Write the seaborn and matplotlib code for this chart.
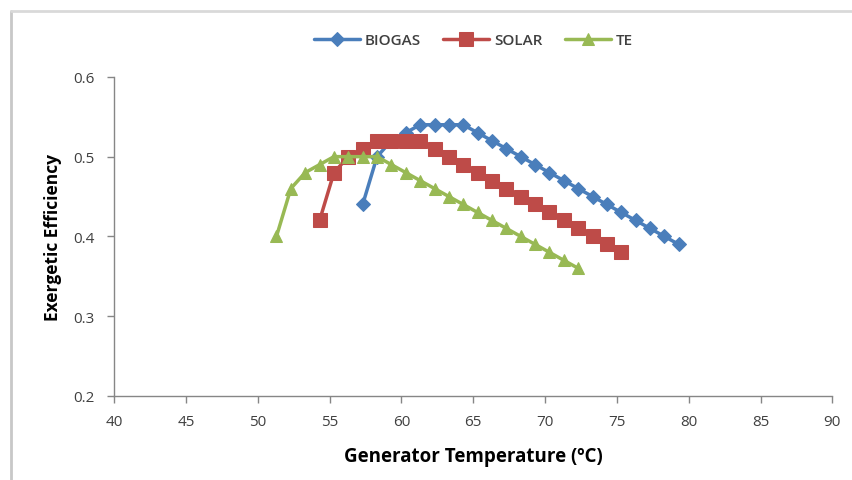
import matplotlib
matplotlib.use("Agg")
import matplotlib.pyplot as plt
import seaborn as sns
import pandas as pd

# data
biogas_t = [57.3, 58.3, 59.3, 60.3, 61.3, 62.3, 63.3, 64.3, 65.3, 66.3, 67.3, 68.3,
            69.3, 70.3, 71.3, 72.3, 73.3, 74.3, 75.3, 76.3, 77.3, 78.3, 79.3]
biogas_eff = [0.44, 0.50, 0.52, 0.53, 0.54, 0.54, 0.54, 0.54, 0.53, 0.52, 0.51, 0.50,
              0.49, 0.48, 0.47, 0.46, 0.45, 0.44, 0.43, 0.42, 0.41, 0.40, 0.39]

solar_t = [54.3, 55.3, 56.3, 57.3, 58.3, 59.3, 60.3, 61.3, 62.3, 63.3, 64.3,
           65.3, 66.3, 67.3, 68.3, 69.3, 70.3, 71.3, 72.3, 73.3, 74.3, 75.3]
solar_eff = [0.42, 0.48, 0.50, 0.51, 0.52, 0.52, 0.52, 0.52, 0.51, 0.50, 0.49,
             0.48, 0.47, 0.46, 0.45, 0.44, 0.43, 0.42, 0.41, 0.40, 0.39, 0.38]

te_t = [51.3, 52.3, 53.3, 54.3, 55.3, 56.3, 57.3, 58.3, 59.3, 60.3, 61.3,
        62.3, 63.3, 64.3, 65.3, 66.3, 67.3, 68.3, 69.3, 70.3, 71.3, 72.3]
te_eff = [0.40, 0.46, 0.48, 0.49, 0.50, 0.50, 0.50, 0.50, 0.49, 0.48, 0.47,
          0.46, 0.45, 0.44, 0.43, 0.42, 0.41, 0.40, 0.39, 0.38, 0.37, 0.36]

series = ["BIOGAS", "SOLAR", "TE"]
colors = ["#4A7EBB", "#BE4B48", "#98B954"]
markers = ["D", "s", "^"]
msizes = [7.5, 10, 9]

x_ticks = [40, 45, 50, 55, 60, 65, 70, 75, 80, 85, 90]
y_ticks = [0.2, 0.3, 0.4, 0.5, 0.6]

df = pd.concat([
    pd.DataFrame({"T": biogas_t, "eff": biogas_eff, "src": "BIOGAS"}),
    pd.DataFrame({"T": solar_t, "eff": solar_eff, "src": "SOLAR"}),
    pd.DataFrame({"T": te_t, "eff": te_eff, "src": "TE"}),
])

sns.set_style("white")
plt.rcParams["font.family"] = ["Open Sans", "DejaVu Sans"]

fig = plt.figure(figsize=(8.52, 4.81), dpi=100)
ax = fig.add_axes([0.134, 0.175, 0.843, 0.663])

for name, c, m, ms in zip(series, colors, markers, msizes):
    sub = df[df["src"] == name]
    sns.lineplot(data=sub, x="T", y="eff", ax=ax, color=c, marker=m,
                 markersize=ms, markeredgecolor=c, linewidth=2.5,
                 label=name, sort=False)

ax.set_xlim(40, 90)
ax.set_ylim(0.2, 0.6)
ax.set_xticks(x_ticks)
ax.set_yticks(y_ticks)
ax.set_yticklabels([f"{v:.1f}" for v in y_ticks])
ax.tick_params(axis="both", direction="out", length=5, width=1, color="#868686",
               labelsize=11, labelcolor="#404040", bottom=True, left=True)
ax.tick_params(axis="x", pad=8)
ax.tick_params(axis="y", pad=9)

for s in ["top", "right"]:
    ax.spines[s].set_visible(False)
for s in ["left", "bottom"]:
    ax.spines[s].set_color("#868686")
    ax.spines[s].set_linewidth(1)

ax.set_xlabel("Generator Temperature (\u00baC)", fontsize=13.5, fontweight="bold",
              color="black", labelpad=12)
ax.set_ylabel("Exergetic Efficiency", fontsize=12.5, fontweight="bold",
              color="black", labelpad=8)

leg = ax.legend(loc="center", bbox_to_anchor=(0.5, 1.115), ncol=3,
                frameon=False, fontsize=11, handlelength=3, columnspacing=1.5,
                handletextpad=0.3)
for t in leg.get_texts():
    t.set_color("#404040")
    t.set_fontweight("semibold")

# light frame around the chart area
fig.add_artist(plt.Line2D([11 / 852, 11 / 852], [0, 1 - 12 / 481],
                          transform=fig.transFigure, color="#c8c8c8", linewidth=2))
fig.add_artist(plt.Line2D([11 / 852, 1], [1 - 12 / 481, 1 - 12 / 481],
                          transform=fig.transFigure, color="#d9d9d9", linewidth=2))

fig.savefig("out.png", dpi=100)
